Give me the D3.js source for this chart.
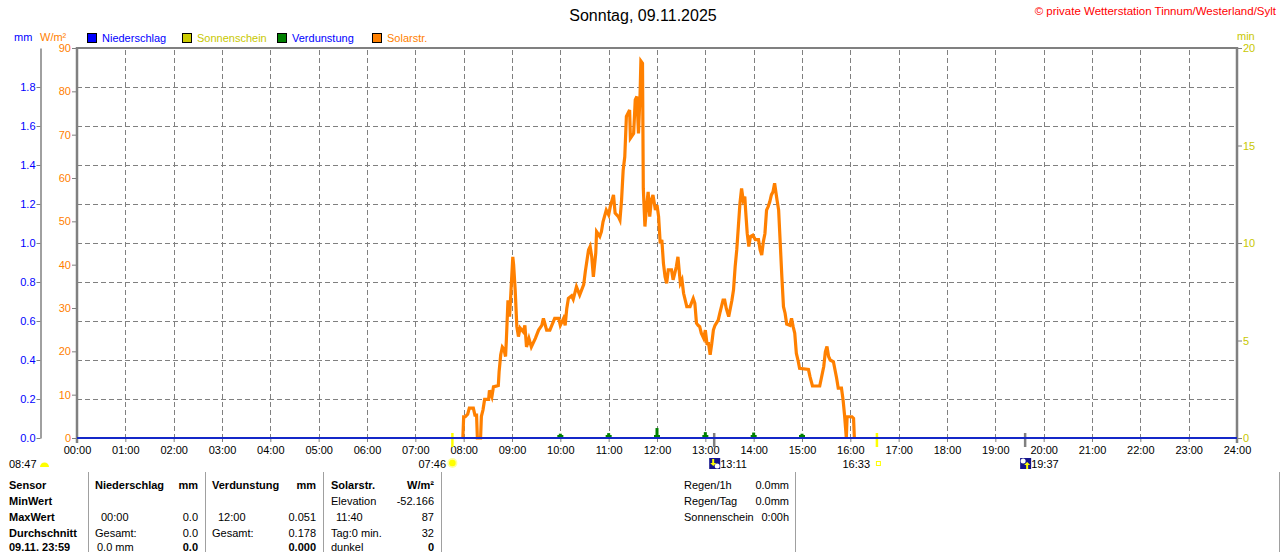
<!DOCTYPE html>
<html>
<head>
<meta charset="utf-8">
<script src="https://cdn.jsdelivr.net/npm/d3@7/dist/d3.min.js"></script>
<style>
  html, body { margin: 0; padding: 0; background: #fff; }
  svg { display: block; }
  text { font-family: "Liberation Sans", Arial, sans-serif; font-size: 11px; }
</style>
</head>
<body>
<svg id="chart" width="1280" height="552"></svg>
<script>
// ---------- DATA ----------
const title = "Sonntag, 09.11.2025";
const copyright = "\u00A9 private Wetterstation Tinnum/Westerland/Sylt";
const hourTicks = ["00:00","01:00","02:00","03:00","04:00","05:00","06:00","07:00","08:00","09:00","10:00","11:00","12:00","13:00","14:00","15:00","16:00","17:00","18:00","19:00","20:00","21:00","22:00","23:00","24:00"];
const mmTicks = [0.0,0.2,0.4,0.6,0.8,1.0,1.2,1.4,1.6,1.8];
const wTicks = [0,10,20,30,40,50,60,70,80,90];
const minTicks = [0,5,10,15,20];
const legendLabels = ["Niederschlag","Sonnenschein","Verdunstung","Solarstr."];

// Solar radiation (W/m²) readings
const solarTimes = ["07:59","08:00","08:02","08:05","08:07","08:12","08:14","08:16","08:17","08:21","08:22","08:24","08:26","08:31","08:32","08:35","08:37","08:43","08:44","08:46","08:48","08:50","08:52","08:53","08:55","08:57","08:59","09:01","09:02","09:04","09:06","09:08","09:10","09:14","09:16","09:18","09:21","09:24","09:29","09:33","09:37","09:39","09:43","09:47","09:53","09:58","10:00","10:04","10:06","10:08","10:10","10:14","10:16","10:20","10:24","10:29","10:31","10:35","10:37","10:39","10:41","10:44","10:45","10:49","10:51","10:53","10:57","11:00","11:02","11:06","11:08","11:12","11:14","11:16","11:18","11:20","11:22","11:26","11:27","11:31","11:33","11:35","11:37","11:39","11:40","11:42","11:43","11:45","11:47","11:49","11:51","11:53","11:55","11:58","12:00","12:02","12:04","12:06","12:08","12:10","12:12","12:14","12:18","12:20","12:24","12:26","12:29","12:31","12:33","12:37","12:41","12:45","12:47","12:49","12:51","12:53","12:55","12:58","13:00","13:02","13:04","13:06","13:08","13:10","13:12","13:16","13:18","13:20","13:22","13:24","13:26","13:29","13:31","13:33","13:35","13:37","13:39","13:41","13:43","13:45","13:47","13:49","13:50","13:52","13:54","13:56","13:59","14:02","14:06","14:08","14:10","14:12","14:14","14:16","14:18","14:20","14:22","14:24","14:26","14:29","14:31","14:33","14:35","14:37","14:39","14:41","14:45","14:47","14:49","14:51","14:53","14:55","14:57","15:08","15:10","15:13","15:22","15:24","15:27","15:29","15:31","15:33","15:35","15:39","15:41","15:43","15:45","15:49","15:51","15:53","15:55","15:56","16:02","16:04","16:05"];
const solarValues = [0,4.9,4.9,5.5,6.9,6.9,5.3,5.3,0,0,5,6.5,8.9,8.9,11,9.5,11.8,12.1,15.3,19.2,21,20.5,18.8,22.6,31.8,28,34.9,41.8,40,34,25.7,23.4,25.4,24.5,26,21,23,21,23,24.9,26,27.6,24.9,24.9,27.6,27.6,26,27.6,26,29.9,32.2,32.8,32,34.9,33,35.4,38.4,43.4,44.2,41.8,37.2,42.7,47.6,46.5,47.6,49.9,52.6,51.5,53.4,56.1,51.9,51.1,50.3,54.9,61.8,64.9,74.2,75.7,69.2,70.3,78,78.8,70.3,79.5,87,86.5,57.6,48.8,53.4,56.8,51.1,54.9,56.1,52.6,53.8,51.1,44.9,45.7,40.3,37.2,35.7,38.8,38.8,36.5,39.5,41.8,35.7,36.5,33.4,30.3,30.3,32.2,31.1,26.5,26,25.7,24.2,23,24.9,21.8,21.8,19.2,21.8,24.9,26,27.2,28.8,30.3,31.8,31.8,29.9,28,29.9,31.8,34.2,39.5,43.4,48.8,54.2,57.6,54.9,55.7,52.6,47.2,44.2,46.5,46.8,45.8,45.8,43.4,42.2,45.3,47.2,52.6,53.4,54.5,56.1,56.8,58.8,54.9,52.6,44.9,37.2,30.3,28.8,26.3,26,27.6,25.7,24.2,19.5,18,16.1,15.8,14.1,12,12,13.8,16.5,19.9,21.1,18.8,18,17.6,15.7,13.8,11.5,11.5,8.8,4.9,0,4.9,4.9,4.5,0];

// Precipitation (mm) – zero all day
const rainTimes = ["00:00","24:00"];
const rainValues = [0,0];

// Evaporation (mm) per hour
const evapTimes = ["10:00","11:00","12:00","13:00","14:00","15:00"];
const evapValues = [0.022,0.025,0.051,0.030,0.028,0.022];

// Sun / moon events
const sunrise = "07:46", sunset = "16:33", moonset = "13:11", moonrise = "19:37", dayLength = "08:47";

// Bottom table
const sensorCol = ["Sensor","MinWert","MaxWert","Durchschnitt","09.11. 23:59"];
const niederHead = ["Niederschlag","mm"];
const verdHead = ["Verdunstung","mm"];
const solarHead = ["Solarstr.","W/m\u00B2"];
const niederMax = ["00:00","0.0"], niederAvg = ["Gesamt:","0.0"], niederNow = ["0.0 mm","0.0"];
const verdMax = ["12:00","0.051"], verdAvg = ["Gesamt:","0.178"], verdNow = ["","0.000"];
const solarMin = ["Elevation","-52.166"], solarMax = ["11:40","87"], solarAvg = ["Tag:0 min.","32"], solarNow = ["dunkel","0"];
const infoLabels = ["Regen/1h","Regen/Tag","Sonnenschein"];
const infoValues = ["0.0mm","0.0mm","0:00h"];

// ---------- HELPERS ----------
const toMin = s => { const [h,m] = s.split(":").map(Number); return h*60+m; };
const svg = d3.select("#chart");
const BLUE = "#0000ff", ORANGE = "#ff8000", YEL = "#c8c800", GREEN = "#008000", GRAY = "#808080";

const x = d3.scaleLinear().domain([0,1440]).range([77,1237]);
const yW = d3.scaleLinear().domain([0,90]).range([438,48]);
const yMM = d3.scaleLinear().domain([0,2]).range([438,48]);
const yMin = d3.scaleLinear().domain([0,20]).range([438,48]);

// ---------- TITLE ----------
svg.append("text").attr("x",643).attr("y",21).attr("text-anchor","middle")
  .style("font-size","16px").text(title);
svg.append("text").attr("x",1276).attr("y",15).attr("text-anchor","end")
  .attr("fill","#ff0000").style("font-size","11.5px").text(copyright);

// unit labels
svg.append("text").attr("x",14).attr("y",41).attr("fill",BLUE).text("mm");
svg.append("text").attr("x",40).attr("y",41).attr("fill",ORANGE).text("W/m\u00B2");
svg.append("text").attr("x",1237).attr("y",40).attr("fill",YEL).text("min");

// legend
const legColors = [BLUE,"#cccc00",GREEN,ORANGE];
const legText = [BLUE,YEL,BLUE,ORANGE];
const legX = [87,182,277,372];
legendLabels.forEach((l,i)=>{
  svg.append("rect").attr("x",legX[i]+0.5).attr("y",33.5).attr("width",9).attr("height",9)
    .attr("fill",legColors[i]).attr("stroke","#000").attr("stroke-width",1);
  svg.append("text").attr("x",legX[i]+15).attr("y",42).attr("fill",legText[i]).text(l);
});

// ---------- GRID ----------
const grid = svg.append("g");
mmTicks.filter(v=>v>0).forEach(v=>{
  grid.append("line").attr("x1",77).attr("x2",1237).attr("y1",Math.round(yMM(v))+0.5).attr("y2",Math.round(yMM(v))+0.5)
    .attr("stroke",GRAY).attr("stroke-dasharray","5,3");
});
hourTicks.forEach(h=>{
  const m = toMin(h);
  if (m===0 || m===1440) return;
  grid.append("line").attr("x1",Math.round(x(m))+0.5).attr("x2",Math.round(x(m))+0.5).attr("y1",50).attr("y2",442)
    .attr("stroke",GRAY).attr("stroke-dasharray","5,3");
});

// ---------- AXES ----------
const axMM = svg.append("g").attr("transform","translate(40.5,0)")
  .call(d3.axisLeft(yMM).tickValues(mmTicks).tickFormat(d3.format(".1f")).tickSize(4).tickSizeOuter(0).tickPadding(1));
axMM.select(".domain").attr("stroke",GRAY).attr("stroke-width",1.5);
axMM.selectAll(".tick line").attr("stroke",GRAY);
axMM.selectAll(".tick text").attr("fill",BLUE).style("font-size","11px").style("font-family",null);

const axW = svg.append("g").attr("transform","translate(77,0)")
  .call(d3.axisLeft(yW).tickValues(wTicks).tickSize(5).tickSizeOuter(0).tickPadding(1));
axW.select(".domain").remove();
axW.selectAll(".tick line").attr("stroke",GRAY);
axW.selectAll(".tick text").attr("fill",ORANGE).style("font-size","11px").style("font-family",null);

const axR = svg.append("g").attr("transform","translate(1237,0)")
  .call(d3.axisRight(yMin).tickValues(minTicks).tickSize(5).tickSizeOuter(0).tickPadding(1));
axR.select(".domain").remove();
axR.selectAll(".tick line").attr("stroke",GRAY);
axR.selectAll(".tick text").attr("fill",YEL).style("font-size","11px").style("font-family",null);

const axX = svg.append("g").attr("transform","translate(0,438)")
  .call(d3.axisBottom(x).tickValues(hourTicks.map(toMin)).tickFormat((d,i)=>hourTicks[i]).tickSize(4).tickSizeOuter(0).tickPadding(4));
axX.select(".domain").remove();
axX.selectAll(".tick line").attr("stroke",GRAY);
axX.selectAll(".tick text").attr("fill","#000").style("font-size","11px").style("font-family",null);

// frame
svg.append("line").attr("x1",76).attr("x2",1238).attr("y1",48).attr("y2",48).attr("stroke",GRAY).attr("stroke-width",2);
svg.append("line").attr("x1",77).attr("x2",77).attr("y1",47).attr("y2",443).attr("stroke",GRAY).attr("stroke-width",2.5);
svg.append("line").attr("x1",1237).attr("x2",1237).attr("y1",47).attr("y2",443).attr("stroke",GRAY).attr("stroke-width",2.5);

// sun / moon ticks
[[sunrise,"#ffff00"],[sunset,"#ffff00"],[moonset,GRAY],[moonrise,GRAY]].forEach(([t,c])=>{
  svg.append("line").attr("x1",x(toMin(t))).attr("x2",x(toMin(t))).attr("y1",433).attr("y2",447)
    .attr("stroke",c).attr("stroke-width",2.5);
});

// ---------- SERIES ----------
const solarData = solarTimes.map((t,i)=>({t:toMin(t), v:solarValues[i]}));
svg.append("path").datum(solarData)
  .attr("fill","none").attr("stroke",ORANGE).attr("stroke-width",3.2).attr("stroke-linejoin","miter")
  .attr("d", d3.line().x(d=>x(d.t)).y(d=>yW(d.v)));

// evaporation bars
evapTimes.forEach((t,i)=>{
  const cx = x(toMin(t)), top = yMM(evapValues[i]);
  svg.append("rect").attr("x",cx-1.5).attr("y",top).attr("width",3).attr("height",438-top).attr("fill",GREEN);
  svg.append("rect").attr("x",cx-3).attr("y",435).attr("width",6).attr("height",3).attr("fill",GREEN);
});

// precipitation line
const rainData = rainTimes.map((t,i)=>({t:toMin(t), v:rainValues[i]}));
svg.append("path").datum(rainData).attr("fill","none").attr("stroke","#1428c8").attr("stroke-width",2)
  .attr("d", d3.line().x(d=>x(d.t)).y(d=>yMM(d.v)));

// ---------- SUN / MOON LABELS ----------
svg.append("text").attr("x",9).attr("y",468).text(dayLength);
svg.append("path").attr("d","M40,467 A4.5,4.5 0 0 1 49,467 Z").attr("fill","#ffff00");

svg.append("text").attr("x",446).attr("y",468).attr("text-anchor","end").text(sunrise);
const sx = x(toMin(sunrise)), sy = 463;
svg.append("circle").attr("cx",sx).attr("cy",sy).attr("r",5).attr("fill","#ffffa0");
svg.append("circle").attr("cx",sx).attr("cy",sy).attr("r",3.3).attr("fill","#ffff00");

svg.append("text").attr("x",870).attr("y",468).attr("text-anchor","end").text(sunset);
svg.append("rect").attr("x",x(toMin(sunset))-0.5).attr("y",461.5).attr("width",4).attr("height",4)
  .attr("fill","none").attr("stroke","#ffff00").attr("stroke-width",1);

function moonIcon(mx, up){
  svg.append("rect").attr("x",mx).attr("y",458).attr("width",11).attr("height",11).attr("fill","#14148c");
  if (up){
    svg.append("circle").attr("cx",mx+3).attr("cy",461).attr("r",2.5).attr("fill","#fff");
    svg.append("path").attr("d",`M${mx+7},462 l-3,3 h2 v4 h2 v-4 h2 z`).attr("fill","#ffff00");
  } else {
    svg.append("circle").attr("cx",mx+8).attr("cy",466).attr("r",2.5).attr("fill","#fff");
    svg.append("path").attr("d",`M${mx+4},466 l-3,-3 h2 v-4 h2 v4 h2 z`).attr("fill","#ffff00");
  }
}
moonIcon(x(toMin(moonset))-5, false);
svg.append("text").attr("x",x(toMin(moonset))+6).attr("y",468).text(moonset);
moonIcon(x(toMin(moonrise))-5, true);
svg.append("text").attr("x",x(toMin(moonrise))+6).attr("y",468).text(moonrise);

// ---------- TABLE ----------
[88,205,323,441,795,1279].forEach(vx=>{
  svg.append("line").attr("x1",vx+0.5).attr("x2",vx+0.5).attr("y1",472).attr("y2",552).attr("stroke","#a0a0a0").attr("stroke-width",1);
});
const rowY = [489,505,521,537,551];
const bold = sel => sel.style("font-weight","bold");
sensorCol.forEach((t,i)=> bold(svg.append("text").attr("x",9).attr("y",rowY[i]).text(t)));

function cellL(xp, yi, t, b){ const s = svg.append("text").attr("x",xp).attr("y",rowY[yi]).text(t); if(b) bold(s); }
function cellR(xp, yi, t, b){ const s = svg.append("text").attr("x",xp).attr("y",rowY[yi]).attr("text-anchor","end").text(t); if(b) bold(s); }

cellL(95,0,niederHead[0],true); cellR(198,0,niederHead[1],true);
cellL(101,2,niederMax[0]); cellR(198,2,niederMax[1]);
cellL(95,3,niederAvg[0]); cellR(198,3,niederAvg[1]);
cellL(97,4,niederNow[0]); cellR(198,4,niederNow[1],true);

cellL(212,0,verdHead[0],true); cellR(316,0,verdHead[1],true);
cellL(218,2,verdMax[0]); cellR(316,2,verdMax[1]);
cellL(212,3,verdAvg[0]); cellR(316,3,verdAvg[1]);
cellR(316,4,verdNow[1],true);

cellL(331,0,solarHead[0],true); cellR(434,0,solarHead[1],true);
cellL(331,1,solarMin[0]); cellR(434,1,solarMin[1]);
cellL(336,2,solarMax[0]); cellR(434,2,solarMax[1]);
cellL(331,3,solarAvg[0]); cellR(434,3,solarAvg[1]);
cellL(331,4,solarNow[0]); cellR(434,4,solarNow[1],true);

infoLabels.forEach((l,i)=>{
  cellL(684,i,l);
  cellR(789,i,infoValues[i]);
});
</script>
</body>
</html>
